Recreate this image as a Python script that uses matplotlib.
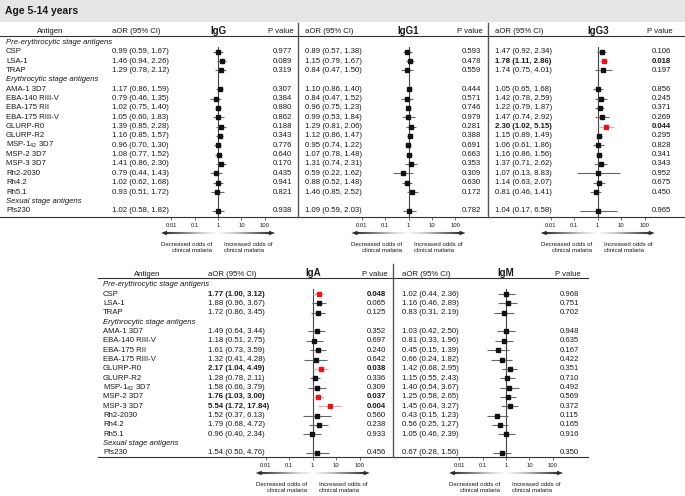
import matplotlib.pyplot as plt
import numpy as np
from matplotlib.collections import LineCollection
from matplotlib.patches import Rectangle, Polygon

plt.rcParams['font.family'] = ['Liberation Sans', 'DejaVu Sans']
plt.rcParams['mathtext.fontset'] = 'custom'
plt.rcParams['mathtext.rm'] = 'Liberation Sans'

# ---- data (age 5-14 years) ----
antigens = ['CSP', 'LSA-1', 'TRAP', 'AMA-1 3D7', 'EBA-140 RIII-V', 'EBA-175 RII',
            'EBA-175 RIII-V', 'GLURP-R0', 'GLURP-R2', 'MSP-1$_{\\mathregular{42}}$ 3D7',
            'MSP-2 3D7', 'MSP-3 3D7', 'Rh2-2030', 'Rh4.2', 'Rh5.1', 'Pfs230']
groups = ['Pre-erythrocytic stage antigens', 'Erythrocytic stage antigens', 'Sexual stage antigens']

igg_or = [0.99, 1.46, 1.29, 1.17, 0.79, 1.02, 1.05, 1.39, 1.16, 0.96, 1.08, 1.41, 0.79, 1.02, 0.93, 1.02]
igg_lo = [0.59, 0.94, 0.78, 0.86, 0.46, 0.75, 0.60, 0.85, 0.85, 0.70, 0.77, 0.86, 0.44, 0.62, 0.51, 0.58]
igg_hi = [1.67, 2.26, 2.12, 1.59, 1.35, 1.40, 1.83, 2.28, 1.57, 1.30, 1.52, 2.30, 1.43, 1.68, 1.72, 1.82]
igg_p = [0.977, 0.089, 0.319, 0.307, 0.384, 0.880, 0.862, 0.188, 0.343, 0.776, 0.640, 0.170, 0.435, 0.941, 0.821, 0.938]

igg1_or = [0.89, 1.15, 0.84, 1.10, 0.84, 0.96, 0.99, 1.29, 1.12, 0.95, 1.07, 1.31, 0.59, 0.88, 1.46, 1.09]
igg1_lo = [0.57, 0.79, 0.47, 0.86, 0.47, 0.75, 0.53, 0.81, 0.86, 0.74, 0.78, 0.74, 0.22, 0.52, 0.85, 0.59]
igg1_hi = [1.38, 1.67, 1.50, 1.40, 1.52, 1.23, 1.84, 2.06, 1.47, 1.22, 1.48, 2.31, 1.62, 1.48, 2.52, 2.03]
igg1_p = [0.593, 0.478, 0.559, 0.444, 0.571, 0.746, 0.979, 0.281, 0.388, 0.691, 0.663, 0.353, 0.309, 0.630, 0.172, 0.782]

igg3_or = [1.47, 1.78, 1.74, 1.05, 1.42, 1.22, 1.47, 2.30, 1.15, 1.06, 1.16, 1.37, 1.07, 1.14, 0.81, 1.04]
igg3_lo = [0.92, 1.11, 0.75, 0.65, 0.78, 0.79, 0.74, 1.02, 0.89, 0.61, 0.86, 0.71, 0.13, 0.63, 0.46, 0.17]
igg3_hi = [2.34, 2.86, 4.01, 1.68, 2.59, 1.87, 2.92, 5.15, 1.49, 1.86, 1.56, 2.62, 8.83, 2.07, 1.41, 6.58]
igg3_p = [0.106, 0.018, 0.197, 0.856, 0.245, 0.371, 0.269, 0.044, 0.295, 0.828, 0.341, 0.343, 0.952, 0.675, 0.450, 0.965]

iga_or = [1.77, 1.88, 1.72, 1.49, 1.18, 1.61, 1.32, 2.17, 1.28, 1.58, 1.76, 5.54, 1.52, 1.79, 0.96, 1.54]
iga_lo = [1.00, 0.96, 0.86, 0.64, 0.51, 0.73, 0.41, 1.04, 0.78, 0.66, 1.03, 1.72, 0.37, 0.68, 0.40, 0.50]
iga_hi = [3.12, 3.67, 3.45, 3.44, 2.75, 3.59, 4.28, 4.49, 2.11, 3.79, 3.00, 17.84, 6.13, 4.72, 2.34, 4.76]
iga_p = [0.048, 0.065, 0.125, 0.352, 0.697, 0.240, 0.642, 0.038, 0.336, 0.309, 0.037, 0.004, 0.560, 0.238, 0.933, 0.456]

igm_or = [1.02, 1.16, 0.83, 1.03, 0.81, 0.45, 0.66, 1.42, 1.15, 1.40, 1.25, 1.45, 0.43, 0.56, 1.05, 0.67]
igm_lo = [0.44, 0.46, 0.31, 0.42, 0.33, 0.15, 0.24, 0.68, 0.55, 0.54, 0.58, 0.64, 0.15, 0.25, 0.46, 0.28]
igm_hi = [2.36, 2.89, 2.19, 2.50, 1.96, 1.39, 1.82, 2.95, 2.43, 3.67, 2.65, 3.27, 1.23, 1.27, 2.39, 1.56]
igm_p = [0.968, 0.751, 0.702, 0.948, 0.635, 0.167, 0.422, 0.351, 0.710, 0.492, 0.569, 0.372, 0.115, 0.165, 0.916, 0.350]

ticks = [0.01, 0.1, 1, 10, 100]
tick_labels = ['0.01', '0.1', '1', '10', '100']

# row layout: group headers at 0, 4, 17
ag_rows = np.array([1, 2, 3, 5, 6, 7, 8, 9, 10, 11, 12, 13, 14, 15, 16, 18])
grp_rows = [0, 4, 17]

W, H = 685, 496
ROW = 9.35
DEC = 23.4  # px per decade
TXT = '#1a1a1a'
FS = 5.6

fig = plt.figure(figsize=(W / 100, H / 100), dpi=100)
base = fig.add_axes([0, 0, 1, 1])
base.set_xlim(0, W)
base.set_ylim(H, 0)
base.axis('off')

base.add_patch(Rectangle((0, 0), W, 22, color='#e6e6e6', lw=0))
base.text(5, 11.5, 'Age 5-14 years', fontsize=7.5, weight='bold', va='center', color=TXT)


def arrow(cx, ya):
    n = 40
    for side in (-1, 1):
        xs = np.linspace(cx + side * 2, cx + side * 52, n + 1)
        segs = [[(xs[i], ya), (xs[i + 1], ya)] for i in range(n)]
        cols = plt.cm.Greys(np.linspace(0.1, 0.85, n))
        base.add_collection(LineCollection(segs, colors=cols, linewidths=1.5))
        tip = cx + side * 57
        base.add_patch(Polygon([(tip, ya), (tip - side * 6, ya - 2.3), (tip - side * 6, ya + 2.3)],
                               closed=True, color=cols[-1], lw=0))


def forest(cx, y_row0, y_bottom, name, vals, lo, hi, p):
    top_px = y_row0 + 0.5 * ROW
    ax = fig.add_axes([(cx - 2.4 * DEC) / W, 1 - y_bottom / H, 4.8 * DEC / W, (y_bottom - top_px) / H])
    ax.set_xscale('log')
    ax.set_xlim(10 ** -2.4, 10 ** 2.4)
    ax.set_ylim((y_bottom - y_row0) / ROW, 0.5)
    ax.patch.set_alpha(0)
    for s in ax.spines.values():
        s.set_visible(False)
    ax.axvline(1, color='#444', lw=0.8, zorder=1)
    sig = np.array(p) < 0.05
    ax.hlines(ag_rows[~sig], np.array(lo)[~sig], np.array(hi)[~sig], color='#666', lw=0.8, zorder=2)
    ax.hlines(ag_rows[sig], np.array(lo)[sig], np.array(hi)[sig], color='#f4a3a3', lw=0.8, zorder=2)
    ax.plot(np.array(vals)[~sig], ag_rows[~sig], 's', color='#111', ms=3, zorder=3)
    ax.plot(np.array(vals)[sig], ag_rows[sig], 's', color='#e8141c', ms=3, zorder=3)
    ax.set_xticks(ticks)
    ax.set_xticklabels(tick_labels)
    ax.minorticks_off()
    ax.set_yticks([])
    ax.tick_params(axis='x', direction='out', length=2.5, width=0.5, pad=2.5,
                   labelsize=4.2, colors='#333', labelcolor=TXT)
    base.text(cx, y_row0 - 11.5, name, fontsize=7, weight='bold', ha='center', va='center', color=TXT)
    arrow(cx, y_bottom + 16.5)
    base.text(cx - 6, y_bottom + 25, 'Decreased odds of\nclinical malaria', fontsize=4.4,
              ha='right', va='top', ma='right', color=TXT, linespacing=1.25)
    base.text(cx + 6, y_bottom + 25, 'Increased odds of\nclinical malaria', fontsize=4.4,
              ha='left', va='top', ma='left', color=TXT, linespacing=1.25)


def block(y_row0, y_bottom, x_aor, cx, x_p, name, vals, lo, hi, p):
    yh = y_row0 - 10.7
    base.text(x_aor + 24, yh, 'aOR (95% CI)', fontsize=FS, ha='center', va='center', color=TXT)
    base.text(x_p + 8, yh, 'P value', fontsize=FS, ha='center', va='center', color=TXT)
    for r, v, l, h, pv in zip(ag_rows, vals, lo, hi, p):
        w = 'bold' if pv < 0.05 else 'normal'
        y = y_row0 + r * ROW
        base.text(x_aor, y, f'{v:.2f} ({l:.2f}, {h:.2f})', fontsize=FS, weight=w, va='center', color=TXT)
        base.text(x_p, y, f'{pv:.3f}', fontsize=FS, weight=w, va='center', color=TXT)
    forest(cx, y_row0, y_bottom, name, vals, lo, hi, p)


def labels(x0, y_row0):
    base.text(x0 + 44, y_row0 - 10.7, 'Antigen', fontsize=FS, ha='center', va='center', color=TXT)
    for r, g in zip(grp_rows, groups):
        base.text(x0, y_row0 + r * ROW, g, fontsize=FS, style='italic', va='center', color=TXT)
    for r, a in zip(ag_rows, antigens):
        base.text(x0, y_row0 + r * ROW, a, fontsize=FS, va='center', color=TXT)


# ---- top table: IgG, IgG1, IgG3 ----
t0, tb = 42.4, 216.5
labels(6, t0)
block(t0, tb, 112, 218, 273, 'IgG', igg_or, igg_lo, igg_hi, igg_p)
block(t0, tb, 305, 408.5, 462, 'IgG1', igg1_or, igg1_lo, igg1_hi, igg1_p)
block(t0, tb, 495, 597.7, 652, 'IgG3', igg3_or, igg3_lo, igg3_hi, igg3_p)
base.plot([0, W], [36, 36], color='#333', lw=0.8)
base.plot([0, W], [tb, tb], color='#333', lw=0.8)
for xv in (298.3, 488.3):
    base.plot([xv, xv], [23, tb], color='#555', lw=1.0)

# ---- bottom table: IgA, IgM ----
b0, bb = 284.7, 456.5
labels(103, b0)
block(b0, bb, 208, 312.7, 367, 'IgA', iga_or, iga_lo, iga_hi, iga_p)
block(b0, bb, 402, 506, 560, 'IgM', igm_or, igm_lo, igm_hi, igm_p)
base.plot([98, 588], [277.7, 277.7], color='#333', lw=0.8)
base.plot([98, 588], [bb, bb], color='#333', lw=0.8)
base.plot([393, 393], [264, bb], color='#555', lw=1.0)

fig.savefig('out.png', dpi=100)
